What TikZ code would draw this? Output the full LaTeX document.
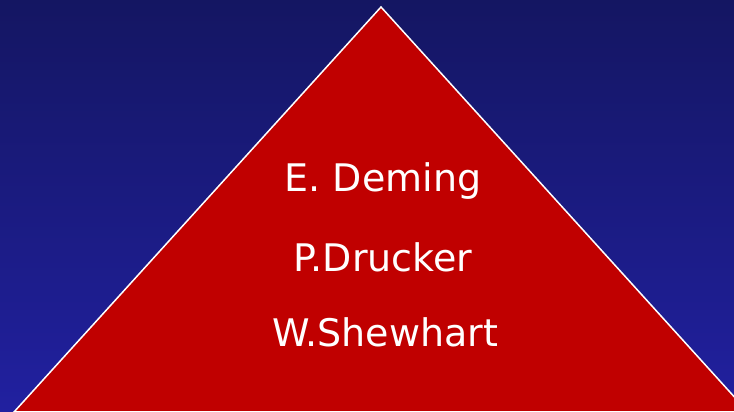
\documentclass[tikz,border=0pt]{standalone}
\usepackage{fontspec}
\setmainfont{DejaVu Sans}
\definecolor{bgtop}{RGB}{20,22,98}
\definecolor{bgbot}{RGB}{33,32,160}
\definecolor{pyrred}{RGB}{192,0,0}
\begin{document}
\begin{tikzpicture}[x=1pt,y=1pt,
  nametext/.style={text=white,font=\fontsize{38}{40}\selectfont,anchor=base,inner sep=0pt}]
\useasboundingbox (0,0) rectangle (734,412);
\shade[top color=bgtop,bottom color=bgbot] (0,0) rectangle (734,412);
\begin{scope}
\clip (0,0) rectangle (734,412);
\coordinate (apex) at (381,405);
\coordinate (bl) at (14,0);
\coordinate (br) at (748,0);
\filldraw[fill=pyrred,draw=white,line width=1.5pt,line join=miter] (bl) -- (apex) -- (br) -- cycle;
\end{scope}
\node[nametext] (deming) at (383,220.5) {E. Deming};
\node[nametext] (drucker) at (383,140.5) {P.Drucker};
\node[nametext] (shewhart) at (385,65.5) {W.Shewhart};
\end{tikzpicture}
\end{document}
